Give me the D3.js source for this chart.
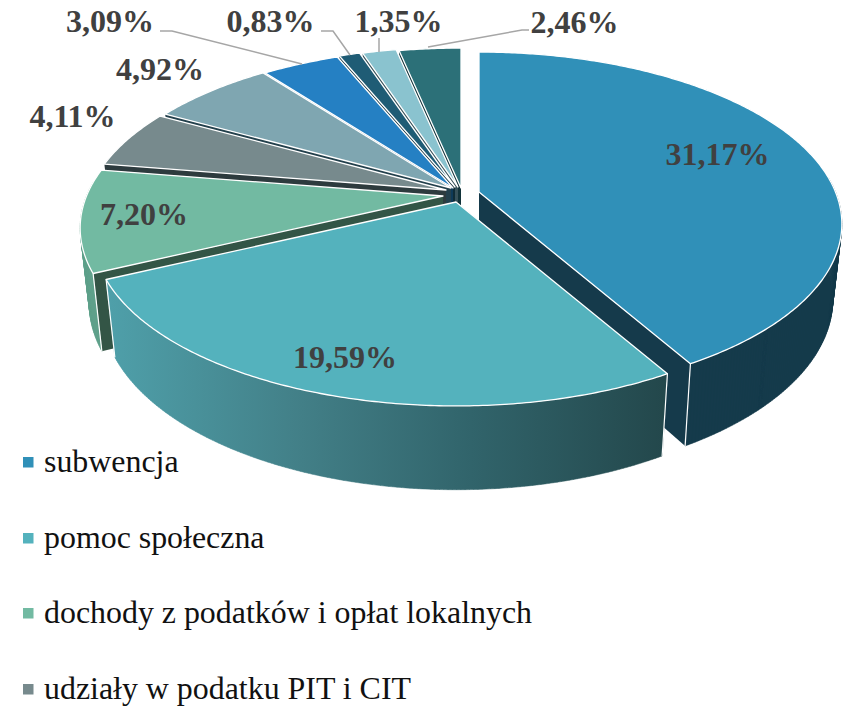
<!DOCTYPE html>
<html><head><meta charset="utf-8">
<script src="https://cdn.jsdelivr.net/npm/d3@7/dist/d3.min.js"></script>
<style>html,body{margin:0;padding:0;background:#fff}svg{display:block}</style>
</head><body><div id="chart"></div>
<script>
// ---- data ----
const legendCategories = ["subwencja","pomoc społeczna","dochody z podatków i opłat lokalnych","udziały w podatku PIT i CIT"];
const values = [31.17,19.59,7.20,4.11,4.92,3.09,0.83,1.35,2.46];
const valueLabels = ["31,17%","19,59%","7,20%","4,11%","4,92%","3,09%","0,83%","1,35%","2,46%"];
// ---- style ----
const faceColors = ["#3090B8","#54B2BD","#72BAA2","#778A8D","#7FA6B1","#2580C3","#1F5C75","#8AC3CF","#2C7078"];
const wallColors = ["#153A4B","url(#pomocWall)","#5FA08A","#3C4B4D","#3F5A62","#134668","#10323F","#4C6E75","#173C40"];
const cutColors  = ["#153A4B","#2A5A60","#335546","#2D3B3E","#23404C","#0E3A58","#0E2C38","#37525A","#12333A"];
// ---- layout ----
const W = 849, H = 707;
const explode = [[479,192],[456,202],[443,196],[446,190],[451,188],[453,188],[455,187],[458,187],[461,188]];
const R = 356.5, Ry = 166, K = 0.186;
const drop = {sx:0.975, sy:1.048, d:74};
const labelPos = [[717.5,165],[345,368],[144,225],[72.5,127],[160,80],[110,32],[270.5,32],[398.5,32],[574.5,33]];
const leaders = [null,null,null,null,null,
  [[160,31],[172,31],[302,64]],
  [[321,31],[333,31],[350,55]],
  [[379,38],[379,52]],
  [[428,47],[522,30],[529,30]]];
const legendX = 23, legendY = [472,548,623,699];

const svg = d3.select("#chart").append("svg").attr("width",W).attr("height",H);
const grad = svg.append("defs").append("linearGradient").attr("id","pomocWall")
  .attr("gradientUnits","userSpaceOnUse").attr("x1",105).attr("x2",668).attr("y1",0).attr("y2",0);
[[0,"#4FA0AA"],[0.35,"#427F87"],[0.65,"#31646B"],[1,"#23474B"]].forEach(s=>grad.append("stop").attr("offset",s[0]).attr("stop-color",s[1]));

const pie = d3.pie().sort(null).value(d=>d)(values);
const line = d3.line();
function rimPoint(theta){ const X=Math.sin(theta),Y=Math.cos(theta),w=1+K*Y; return [R*X/w,-Ry*Y/w]; }
function lower(p){ return [p[0]*drop.sx,p[1]*drop.sy+drop.d]; }
const at=(c,p)=>[c[0]+p[0],c[1]+p[1]];
function samples(a,b){ const n=Math.max(2,Math.ceil((b-a)/0.01)); return d3.range(n+1).map(i=>a+(b-a)*i/n); }

// paint order: back slices first, front slices last
const order = [8,7,6,5,4,3,2,0,1];
order.forEach(i=>{
  const s = pie[i], c = explode[i], g = svg.append("g");
  const th = samples(s.startAngle,s.endAngle);
  // cut wall (front facing straight edge)
  const edge = i===0 ? s.endAngle : s.startAngle;
  const rim = rimPoint(edge);
  const cut = [[0,0],rim,lower(rim),lower([0,0])].map(p=>at(c,p));
  g.append("path").attr("d",line(cut)+"Z").attr("fill",cutColors[i]);
  // outer wall (visible front arc only)
  const lo=Math.max(s.startAngle,85*Math.PI/180), hi=Math.min(s.endAngle,275*Math.PI/180);
  if(hi>lo){
    const ts=samples(lo,hi); let d="";
    for(let k=0;k<ts.length-1;k++){
      const a=rimPoint(ts[k]),b=rimPoint(ts[k+1]);
      d+=line([a,b,lower(b),lower(a)].map(p=>at(c,p)))+"Z";
    }
    g.append("path").attr("d",d).attr("fill",wallColors[i]).attr("stroke",wallColors[i]).attr("stroke-width",0.5);
    // white vertical corner lines on the walls
    const corners = i===0 ? [s.endAngle] : i===1 ? [s.startAngle,s.endAngle] : i===2 ? [s.startAngle] : [];
    corners.forEach(a=>{
      const p=rimPoint(a);
      g.append("path").attr("d",line([at(c,p),at(c,lower(p))])).attr("stroke","#fff").attr("stroke-width",1.2).attr("fill","none");
    });
  }
  // top face
  const face = [[0,0]].concat(th.map(rimPoint)).map(p=>at(c,p));
  g.append("path").attr("d",line(face)+"Z").attr("fill",faceColors[i]).attr("stroke","#fff").attr("stroke-width",1.3).attr("stroke-linejoin","round");
});

// leader lines
svg.append("g").selectAll("path").data(leaders.filter(Boolean)).join("path")
  .attr("d",d=>line(d)).attr("fill","none").attr("stroke","#A6A6A6").attr("stroke-width",1.5);
// value labels
svg.append("g").selectAll("text").data(valueLabels).join("text")
  .attr("x",(d,i)=>labelPos[i][0]).attr("y",(d,i)=>labelPos[i][1]).attr("text-anchor","middle")
  .attr("font-family","'Liberation Serif'").attr("font-weight","bold").attr("font-size",32).attr("fill","#404040").text(d=>d);
// legend
const lg = svg.append("g").selectAll("g").data(legendCategories).join("g");
lg.append("rect").attr("x",legendX).attr("y",(d,i)=>legendY[i]-15).attr("width",10.5).attr("height",10.5).attr("fill",(d,i)=>faceColors[i]);
lg.append("text").attr("x",44).attr("y",(d,i)=>legendY[i]).attr("font-family","'Liberation Serif'").attr("font-size",31.9).attr("fill","#111").text(d=>d);
</script></body></html>
